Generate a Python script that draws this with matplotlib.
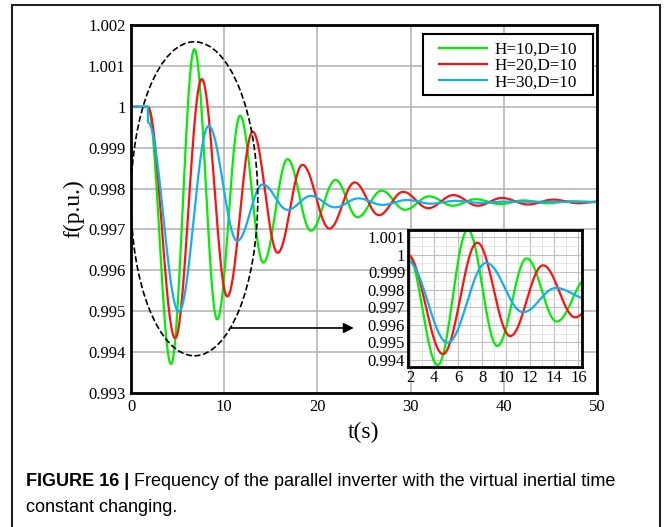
import numpy as np
import matplotlib.pyplot as plt
from matplotlib.patches import Ellipse, Rectangle
from matplotlib.ticker import MultipleLocator

# Extremos de cada curva de frecuencia (tiempo en s, frecuencia en p.u.)
t_h10 = [0, 1.8, 4.3, 6.8, 9.25, 11.7, 14.2, 16.8, 19.3, 21.95, 24.3, 26.9, 29.4,
         32.0, 34.5, 37.0, 39.6, 42.1, 44.7, 47.2, 50]
f_h10 = [1.0, 1.0, 0.99371, 1.00141, 0.99480, 0.99978, 0.99619, 0.99872, 0.99697,
         0.99821, 0.99730, 0.99795, 0.99748, 0.99781, 0.99758, 0.99774, 0.99762,
         0.99771, 0.99764, 0.99769, 0.99767]

t_h20 = [0, 1.8, 4.74, 7.59, 10.33, 13.06, 15.74, 18.4, 21.3, 24.0, 26.6, 29.2,
         31.9, 34.6, 37.2, 39.8, 42.6, 45.3, 48.0, 50]
f_h20 = [1.0, 1.0, 0.99434, 1.00068, 0.99536, 0.99939, 0.99643, 0.99858, 0.99702,
         0.99815, 0.99735, 0.99792, 0.99752, 0.99784, 0.99758, 0.99777, 0.99761,
         0.99773, 0.99764, 0.99768]

t_h30 = [0, 1.8, 1.82, 5.13, 8.33, 11.4, 14.13, 16.8, 19.3, 21.9, 24.4, 27.0,
         29.6, 32.2, 34.8, 37.4, 40.0, 50]
f_h30 = [1.0, 1.0, 0.99962, 0.99499, 0.99953, 0.99672, 0.99810, 0.99748, 0.99782,
         0.99754, 0.99776, 0.99760, 0.99772, 0.99763, 0.99770, 0.99765, 0.99768,
         0.99767]

etiquetas = ['H=10,D=10', 'H=20,D=10', 'H=30,D=10']
colores = ['#00ee00', '#ff1010', '#10b0f0']

y_ticks = [0.993, 0.994, 0.995, 0.996, 0.997, 0.998, 0.999, 1.0, 1.001, 1.002]
y_tick_labels = ['0.993', '0.994', '0.995', '0.996', '0.997', '0.998', '0.999', '1',
                 '1.001', '1.002']
x_ticks = [0, 10, 20, 30, 40, 50]

y_ticks_zoom = [0.994, 0.995, 0.996, 0.997, 0.998, 0.999, 1.0, 1.001]
y_tick_labels_zoom = ['0.994', '0.995', '0.996', '0.997', '0.998', '0.999', '1', '1.001']
x_ticks_zoom = [2, 4, 6, 8, 10, 12, 14, 16]

caption_bold = 'FIGURE 16 |'
caption_text = ' Frequency of the parallel inverter with the virtual inertial time'
caption_text2 = 'constant changing.'


def curva(t_ext, f_ext, n=40):
    """Une los extremos con tramos de medio coseno."""
    ts, fs = [], []
    for i in range(len(t_ext) - 1):
        s = np.linspace(0, 1, n)
        forma = (1 - np.cos(np.pi * s)) / 2
        ts.extend(t_ext[i] + (t_ext[i + 1] - t_ext[i]) * s)
        fs.extend(f_ext[i] + (f_ext[i + 1] - f_ext[i]) * forma)
    return np.array(ts), np.array(fs)


series = [curva(t_h10, f_h10), curva(t_h20, f_h20), curva(t_h30, f_h30)]

plt.rcParams['font.family'] = 'Liberation Serif'

fig = plt.figure(figsize=(6.64, 5.27), dpi=100)
W, H = 664, 527

# ============================
# Grafico principal
# ============================
ax = fig.add_axes([131 / W, 1 - 393 / H, 466 / W, 368 / H])
for (t, f), lab, col in zip(series, etiquetas, colores):
    ax.plot(t, f, color=col, lw=1.6, label=lab)

ax.set_xlim(0, 50)
ax.set_ylim(0.993, 1.002)
ax.set_xticks(x_ticks)
ax.set_yticks(y_ticks)
ax.set_yticklabels(y_tick_labels)
ax.tick_params(length=0, labelsize=12, pad=4)
ax.grid(True, color='#b0b0b0', lw=1.1)
for sp in ax.spines.values():
    sp.set_linewidth(2.0)
ax.set_xlabel('t(s)', fontsize=17, labelpad=5)
ax.set_ylabel('f(p.u.)', fontsize=17, labelpad=3)

# elipse punteada y flecha hacia el zoom
ax.add_patch(Ellipse((6.8, 0.99775), 13.6, 0.00768, fill=False, ls='--',
                     lw=1.2, color='black', zorder=3))
ax.annotate('', xy=(24.2, 0.99459), xytext=(10.4, 0.99459),
            arrowprops=dict(arrowstyle='-|>', color='black', lw=1.2,
                            mutation_scale=15))

# leyenda con marco propio
ax.add_patch(Rectangle((0.626, 0.8098), 0.3648, 0.1657, transform=ax.transAxes,
                       facecolor='white', edgecolor='black', lw=1.5, zorder=4))
leg = ax.legend(loc='upper left', bbox_to_anchor=(0.661, 0.955), frameon=False,
                borderpad=0, borderaxespad=0, fontsize=12.3, handlelength=2.8,
                handletextpad=0.45, labelspacing=0.02)
leg.set_zorder(5)

# ============================
# Zoom
# ============================
axz = fig.add_axes([408 / W, 1 - 367 / H, 174 / W, 137 / H])
for (t, f), col in zip(series, colores):
    axz.plot(t, f, color=col, lw=1.6)
axz.set_xlim(1.83, 16.3)
axz.set_ylim(0.9936, 1.0014)
axz.set_xticks(x_ticks_zoom)
axz.set_yticks(y_ticks_zoom)
axz.set_yticklabels(y_tick_labels_zoom)
axz.xaxis.set_minor_locator(MultipleLocator(1))
axz.yaxis.set_minor_locator(MultipleLocator(0.0005))
axz.tick_params(which='both', length=0, labelsize=12, pad=2)
axz.grid(True, which='major', color='#c0c0c0', lw=0.8)
axz.grid(True, which='minor', color='#e0e0e0', lw=0.6)
for sp in axz.spines.values():
    sp.set_linewidth(2.0)

# marco de la figura y pie
fig.add_artist(Rectangle((12 / W, -0.05), 648 / W, 1.05 - 5 / H, transform=fig.transFigure,
                         fill=False, edgecolor='#222222', lw=1.5))
t1 = fig.text(26 / W, 1 - 481 / H, caption_bold, fontsize=13, weight='bold',
              family='Liberation Sans', va='center')
fig.canvas.draw()
bb = t1.get_window_extent()
fig.text(bb.x1 / W, 1 - 481 / H, caption_text, fontsize=13,
         family='Liberation Sans', va='center')
fig.text(26 / W, 1 - 508 / H, caption_text2, fontsize=13,
         family='Liberation Sans', va='center')

plt.savefig('out.png', dpi=100)
plt.close()
